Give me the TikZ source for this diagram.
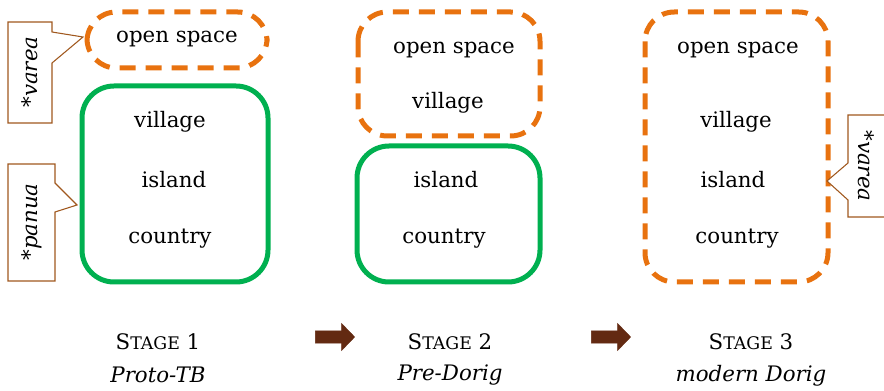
\documentclass[tikz,border=0pt]{standalone}
\usepackage{fontspec}
\setmainfont{DejaVu Serif}
\usetikzlibrary{shapes.arrows, positioning}
\definecolor{o1}{HTML}{E8720F}
\definecolor{g1}{HTML}{00B050}
\definecolor{br}{HTML}{A0581E}
\definecolor{ar}{HTML}{632A12}
\newcommand{\stagelbl}[1]{S{\fontsize{13pt}{15pt}\selectfont TAGE} #1}
\tikzset{
    word/.style={inner sep=0pt, anchor=center},
    openbox/.style={draw=o1, line width=3.75pt, dash pattern=on 12pt off 7.5pt, rounded corners=22pt},
    closedbox/.style={draw=g1, line width=3.75pt, rounded corners=24pt},
    callout/.style={draw=br, line width=0.8pt, fill=white},
    bigarrow/.style={single arrow, fill=ar, draw=ar, line width=0.3pt, minimum height=29.5pt,
        single arrow head extend=5.6pt, inner xsep=0pt, inner ysep=4.5pt, single arrow tip angle=92}
}
\begin{document}
\begin{tikzpicture}[x=0.75pt, y=-0.75pt, line cap=butt, line join=miter,
    font=\fontsize{16pt}{19pt}\selectfont]

    \useasboundingbox (0,0) rectangle (884,391);

    % Stage 1: open space box and the green box below it
    \draw[openbox] (87,12) rectangle (267,68);
    \draw[closedbox] (82,86) rectangle (268,282);
    \node[word] (open1) at (177,39) {open space};
    \node[word] (vill1) at (170,122) {village};
    \node[word] (isl1) at (174,180) {island};
    \node[word] (ctry1) at (170,239) {country};

    % callouts on the left
    \draw[callout] (8,22) -- (52,22) -- (52,32) -- (83,37) -- (52,63) -- (52,123) -- (8,123) -- cycle;
    \node[word, rotate=90, font=\fontsize{16pt}{19pt}\selectfont\itshape] (varea1) at (30,72) {*varea};
    \draw[callout] (8,164) -- (55,164) -- (55,183) -- (77,205) -- (55,212) -- (55,281) -- (8,281) -- cycle;
    \node[word, rotate=90, font=\fontsize{16pt}{19pt}\selectfont\itshape] (panua1) at (32,222) {*panua};

    % Stage 2
    \draw[openbox] (358,12) rectangle (540,136);
    \draw[closedbox] (357,146) rectangle (540,282);
    \node[word] (open2) at (454,50) {open space};
    \node[word] (vill2) at (448,103) {village};
    \node[word] (isl2) at (446,180) {island};
    \node[word] (ctry2) at (444,239) {country};

    % Stage 3
    \draw[openbox] (645,12) rectangle (828,282);
    \node[word] (open3) at (738,50) {open space};
    \node[word] (vill3) at (736,122) {village};
    \node[word] (isl3) at (733,180) {island};
    \node[word] (ctry3) at (737,239) {country};

    % callout on the right (runs off the edge)
    \draw[callout] (890,115) -- (848,115) -- (848,163) -- (827,181) -- (848,200) -- (848,217) -- (890,217);
    \node[word, rotate=-90, font=\fontsize{16pt}{19pt}\selectfont\itshape] (varea3) at (866,166) {*varea};

    % stage labels
    \node[word] (st1) at (158,342) {\stagelbl{1}};
    \node[word, below=25pt of st1.center, anchor=center, font=\fontsize{16pt}{19pt}\selectfont\itshape] (nm1) {Proto-TB};
    \node[word] (st2) at (450,342) {\stagelbl{2}};
    \node[word, below=25pt of st2.center, anchor=center, font=\fontsize{16pt}{19pt}\selectfont\itshape] (nm2) {Pre-Dorig};
    \node[word] (st3) at (751,342) {\stagelbl{3}};
    \node[word, below=25pt of st3.center, anchor=center, font=\fontsize{16pt}{19pt}\selectfont\itshape] (nm3) {modern Dorig};

    % arrows between the stages
    \node[bigarrow] (ar1) at (332,337) {};
    \node[bigarrow] (ar2) at (608,337) {};

\end{tikzpicture}
\end{document}
